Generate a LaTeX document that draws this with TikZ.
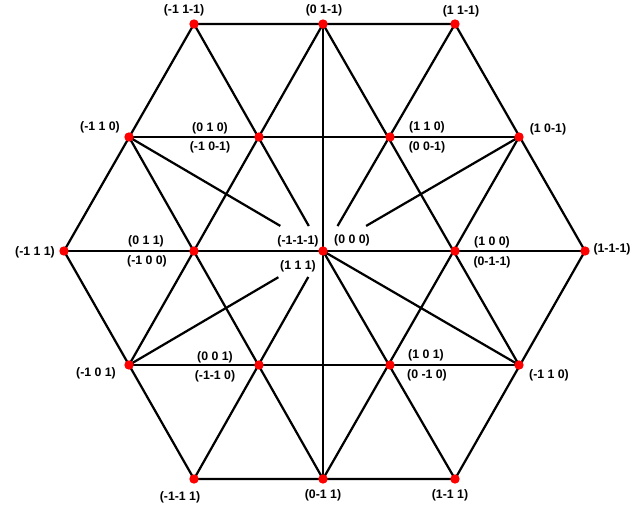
\documentclass[tikz,border=0pt]{standalone}
\usepackage{fontspec}
\setmainfont{Liberation Sans}
\usetikzlibrary{calc}

\begin{document}
\begin{tikzpicture}[
  x=0.03cm, y=-0.03cm,
  edge/.style={line width=1.9pt, black},
  spot/.style={circle, fill=red, inner sep=0pt, minimum size=8pt},
  lab/.style={font=\bfseries\fontsize{10.5}{12}\selectfont, inner sep=0pt}
]
  \useasboundingbox (0,0) rectangle (644,508);

  % lattice points, row by row
  \coordinate (a1) at (194,24);  \coordinate (a2) at (323,24);  \coordinate (a3) at (455,24);
  \coordinate (b1) at (129,137); \coordinate (b2) at (259,137);
  \coordinate (b3) at (390,137); \coordinate (b4) at (519,137);
  \coordinate (c1) at (64,251);  \coordinate (c2) at (194,251); \coordinate (c3) at (323,251);
  \coordinate (c4) at (455,251); \coordinate (c5) at (585,251);
  \coordinate (d1) at (129,365); \coordinate (d2) at (259,365);
  \coordinate (d3) at (390,365); \coordinate (d4) at (519,365);
  \coordinate (e1) at (194,479); \coordinate (e2) at (323,479); \coordinate (e3) at (455,479);

  % outline and full lines
  \draw[edge] (a1) -- (a3) -- (c5) -- (e3) -- (e1) -- (c1) -- cycle;
  \draw[edge] (b1) -- (b4) (c1) -- (c5) (d1) -- (d4) (a2) -- (e2);
  \draw[edge] (a2) -- (d1) (a2) -- (d4) (b1) -- (e2) (b4) -- (e2)
              (c3) -- (e3) (c3) -- (d4);

  % lines that stop short of the centre
  \draw[edge] (a1) -- ($(a1)!0.89!(c3)$)
              (a3) -- ($(a3)!0.89!(c3)$)
              (e1) -- ($(e1)!0.886!(c3)$)
              (b1) -- ($(b1)!0.78!(c3)$)
              (b4) -- ($(b4)!0.78!(c3)$)
              (d1) -- ($(d1)!0.77!(c3)$);

  \foreach \p in {a1,a2,a3,b1,b2,b3,b4,c1,c2,c3,c4,c5,d1,d2,d3,d4,e1,e2,e3}
    \node[spot] at (\p) {};

  % labels
  \node[lab] (mpm) at (184,10) {(-1 1-1)};
  \node[lab] (zpm) at (324,10) {(0 1-1)};
  \node[lab] (ppm) at (461,11) {(1 1-1)};
  \node[lab] (mpz) at (100,127) {(-1 1 0)};
  \node[lab] (zpz) at (210,128) {(0 1 0)};
  \node[lab] (mzm) at (210,147) {(-1 0-1)};
  \node[lab] (ppz) at (427,127) {(1 1 0)};
  \node[lab] (zzm) at (427,147) {(0 0-1)};
  \node[lab] (pzm) at (548,129) {(1 0-1)};
  \node[lab] (mpp) at (35,252) {(-1 1 1)};
  \node[lab] (zpp) at (146,241) {(0 1 1)};
  \node[lab] (mzz) at (147,261) {(-1 0 0)};
  \node[lab] (mmm) at (298,241) {(-1-1-1)};
  \node[lab] (zzz) at (352,240) {(0 0 0)};
  \node[lab] (pzz) at (492,242) {(1 0 0)};
  \node[lab] (pmm) at (612,249) {(1-1-1)};
  \node[lab] (zmm) at (492,262) {(0-1-1)};
  \node[lab] (ppp) at (298,266) {(1 1 1)};
  \node[lab] (zzp) at (215,357) {(0 0 1)};
  \node[lab] (mmz) at (215,376) {(-1-1 0)};
  \node[lab] (mzp) at (96,373) {(-1 0 1)};
  \node[lab] (pzp) at (426,355) {(1 0 1)};
  \node[lab] (zmz) at (427,375) {(0 -1 0)};
  \node[lab] (mpz2) at (549,375) {(-1 1 0)};
  \node[lab] (mmp) at (180,497) {(-1-1 1)};
  \node[lab] (zmp) at (323,495) {(0-1 1)};
  \node[lab] (pmp) at (450,495) {(1-1 1)};
\end{tikzpicture}
\end{document}
